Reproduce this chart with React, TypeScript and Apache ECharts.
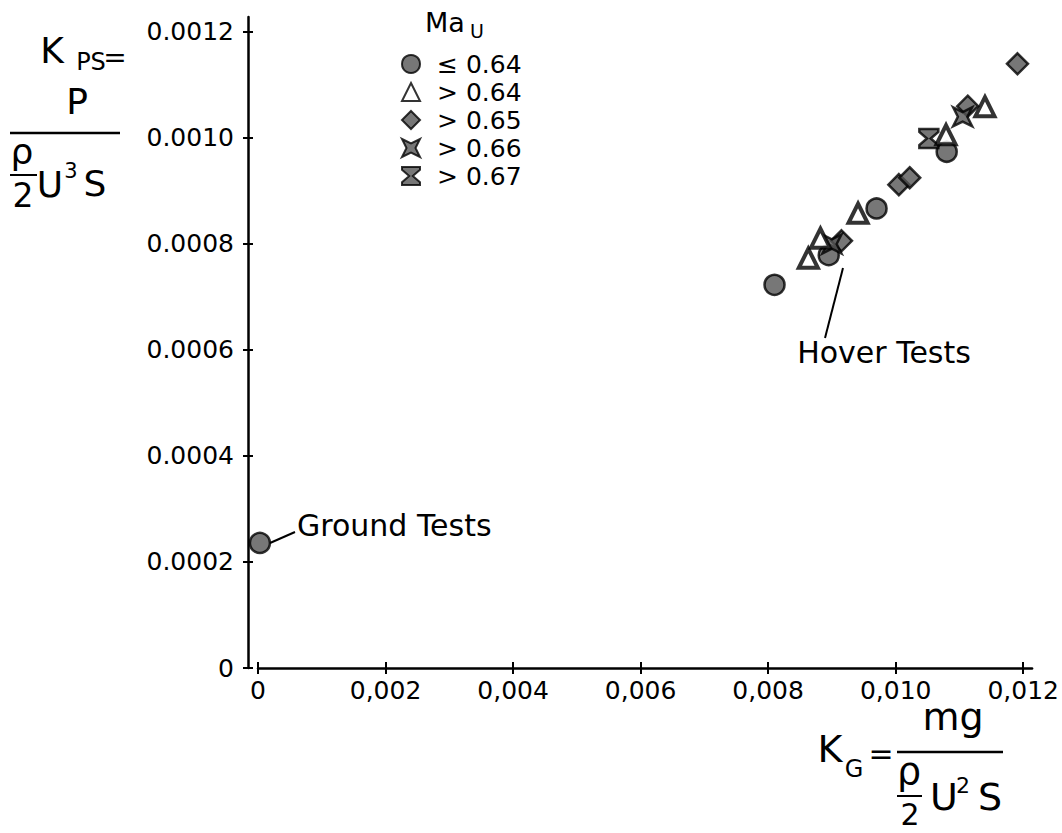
import React, { useEffect, useRef } from "react";
import * as echarts from "echarts";

// ---- data ----
const xTicks = [0, 0.002, 0.004, 0.006, 0.008, 0.01, 0.012];
const xTickLabels = ["0", "0,002", "0,004", "0,006", "0,008", "0,010", "0,012"];
const yTicks = [0, 0.0002, 0.0004, 0.0006, 0.0008, 0.001, 0.0012];
const yTickLabels = ["0", "0.0002", "0.0004", "0.0006", "0.0008", "0.0010", "0.0012"];

const seriesNames = ["≤ 0.64", "> 0.64", "> 0.65", "> 0.66", "> 0.67"];
const maLe064 = [
  [0.00003, 0.000236],
  [0.0081, 0.000723],
  [0.00895, 0.000779],
  [0.0097, 0.000867],
  [0.0108, 0.000974],
];
const maGt064 = [
  [0.00863, 0.000773],
  [0.00882, 0.000811],
  [0.00941, 0.000858],
  [0.01079, 0.001006],
  [0.0114, 0.001059],
];
const maGt065 = [
  [0.00915, 0.000806],
  [0.01005, 0.000912],
  [0.01022, 0.000925],
  [0.01113, 0.00106],
  [0.01191, 0.00114],
];
const maGt066 = [
  [0.009, 0.0008],
  [0.01105, 0.00104],
];
const maGt067 = [[0.01052, 0.000999]];

const FONT = "DejaVu Sans";
const X_SYMBOL = "path://M0,0 L5,2.5 L10,0 L7.5,5 L10,10 L5,7.5 L0,10 L2.5,5 Z";
const HOURGLASS = "path://M0,0 L10,0 L10,1.5 L6,5 L10,8.5 L10,10 L0,10 L0,8.5 L4,5 L0,1.5 Z";

function txt(text: string, x: number, y: number, size: number, align = "center") {
  return {
    type: "text",
    x,
    y,
    style: {
      text,
      fontSize: size,
      fontFamily: FONT,
      fill: "#000",
      textAlign: align,
      textVerticalAlign: "middle",
      align,
      verticalAlign: "middle",
    },
  };
}
function ln(x1: number, y1: number, x2: number, y2: number, w = 2.5) {
  return {
    type: "line",
    shape: { x1, y1, x2, y2 },
    style: { stroke: "#000", lineWidth: w },
  };
}

const labelFor = (ticks: number[], labels: string[]) => (v: number) => {
  const i = ticks.findIndex((t) => Math.abs(t - v) < 1e-9);
  return i >= 0 ? labels[i] : "";
};

export default function App() {
  const ref = useRef<HTMLDivElement>(null);
  useEffect(() => {
    if (!ref.current) return;
    const chart = echarts.init(ref.current, undefined, { renderer: "svg" });
    const grey = "#555555";
    const baseItem = { color: grey, borderColor: "#000", borderWidth: 2.5 };
    const axisLine = { show: true, onZero: false, lineStyle: { color: "#000", width: 2.5 } };
    const tickStyle = { color: "#000", width: 2 };
    const option: any = {
      animation: false,
      backgroundColor: "#fff",
      textStyle: { fontFamily: FONT },
      grid: { left: 258, right: 17, top: 17, bottom: 165 },
      xAxis: [
        {
          type: "value",
          min: 0,
          max: 0.012139,
          position: "bottom",
          axisLine,
          splitLine: { show: false },
          axisTick: { show: true, inside: false, length: 6, customValues: xTicks, lineStyle: tickStyle },
          axisLabel: {
            show: true,
            customValues: xTicks,
            formatter: labelFor(xTicks, xTickLabels),
            fontSize: 25,
            fontFamily: FONT,
            color: "#000",
            margin: 10,
          },
        },
        {
          type: "value",
          min: 0,
          max: 0.012139,
          position: "bottom",
          axisLine: { show: false, onZero: false },
          splitLine: { show: false },
          axisLabel: { show: false },
          axisTick: { show: true, inside: true, length: 6, customValues: xTicks, lineStyle: tickStyle },
        },
      ],
      yAxis: [
        {
          type: "value",
          min: 0,
          max: 0.0012283,
          position: "left",
          offset: 10,
          axisLine,
          splitLine: { show: false },
          axisTick: { show: true, length: 5, customValues: yTicks, lineStyle: tickStyle },
          axisLabel: {
            show: true,
            customValues: yTicks,
            formatter: labelFor(yTicks, yTickLabels),
            fontSize: 25,
            fontFamily: FONT,
            color: "#000",
            margin: 14,
          },
        },
        {
          type: "value",
          min: 0,
          max: 0.0012283,
          position: "left",
          offset: 10,
          axisLine: { show: false, onZero: false },
          splitLine: { show: false },
          axisLabel: { show: false },
          axisTick: { show: true, inside: true, length: 5, customValues: yTicks, lineStyle: tickStyle },
        },
      ],
      legend: {
        orient: "vertical",
        left: 396,
        top: 45,
        itemWidth: 18,
        itemHeight: 18,
        itemGap: 0,
        data: seriesNames,
        textStyle: {
          fontSize: 25,
          fontFamily: FONT,
          color: "#000",
          lineHeight: 28,
          padding: [0, 0, 0, 12],
        },
      },
      series: [
        {
          name: seriesNames[0],
          type: "scatter",
          symbol: "circle",
          symbolSize: 20,
          data: maLe064,
          itemStyle: baseItem,
          z: 3,
        },
        {
          name: seriesNames[1],
          type: "scatter",
          symbol: "triangle",
          symbolSize: 19,
          data: maGt064,
          itemStyle: { color: "#fff", borderColor: "#000", borderWidth: 4 },
          z: 5,
        },
        {
          name: seriesNames[2],
          type: "scatter",
          symbol: "diamond",
          symbolSize: 21,
          data: maGt065,
          itemStyle: baseItem,
          z: 4,
        },
        {
          name: seriesNames[3],
          type: "scatter",
          symbol: X_SYMBOL,
          symbolSize: 19,
          data: maGt066,
          itemStyle: baseItem,
          z: 4,
        },
        {
          name: seriesNames[4],
          type: "scatter",
          symbol: HOURGLASS,
          symbolSize: 19,
          data: maGt067,
          itemStyle: baseItem,
          z: 4,
        },
      ],
      graphic: [
        // legend title Ma_U
        txt("Ma", 445, 22, 27),
        txt("U", 477, 31, 19),
        // y-axis title
        txt("K", 52, 50, 36),
        txt("PS", 91, 62, 24),
        txt("=", 115, 57, 28),
        txt("P", 77, 101, 36),
        ln(10, 133, 120, 133),
        txt("ρ", 22, 151, 36),
        ln(10, 175, 37, 175, 2),
        txt("2", 23, 195, 33),
        txt("U", 50, 184, 36),
        txt("3", 71, 171, 21),
        txt("S", 95, 183, 36),
        // x-axis title
        txt("K", 830, 749, 38),
        txt("G", 854, 769, 24),
        txt("=", 881, 753, 30),
        txt("mg", 953, 717, 38),
        ln(897, 752, 1003, 752),
        txt("ρ", 909, 771, 38),
        ln(897, 796, 922, 796, 2),
        txt("2", 910, 814, 30),
        txt("U", 944, 797, 38),
        txt("2", 963, 785, 22),
        txt("S", 990, 797, 38),
        // annotations
        txt("Ground Tests", 297, 525, 30, "left"),
        ln(270, 543, 295, 532, 2),
        txt("Hover Tests", 884, 352, 30),
        ln(843, 268, 825, 338, 2),
      ],
    };
    chart.setOption(option);
    return () => chart.dispose();
  }, []);
  return (
    <div
      ref={ref}
      style={{ position: "fixed", left: 0, top: 0, width: 1062, height: 833, background: "#fff" }}
    />
  );
}
